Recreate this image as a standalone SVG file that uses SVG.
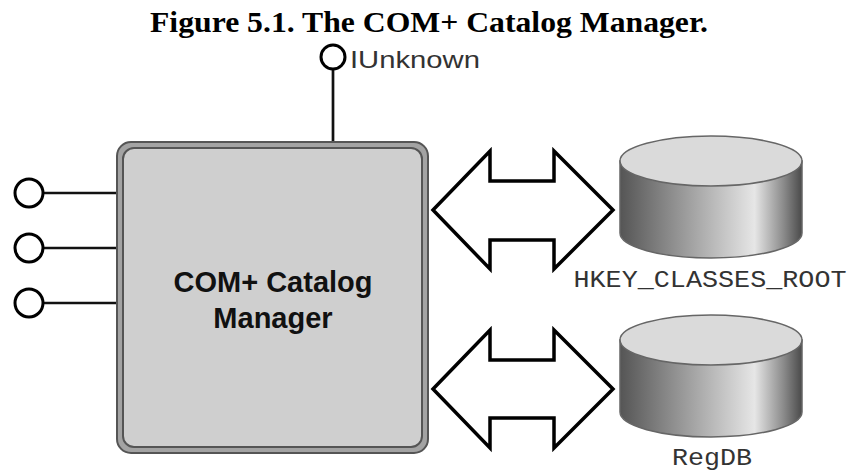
<svg xmlns="http://www.w3.org/2000/svg" width="852" height="473" viewBox="0 0 852 473">
<defs>
<linearGradient id="cyl" x1="0" y1="0" x2="1" y2="0">
<stop offset="0" stop-color="#555"/>
<stop offset="0.35" stop-color="#9a9a9a"/>
<stop offset="0.74" stop-color="#e6e6e6"/>
<stop offset="0.9" stop-color="#8a8a8a"/>
<stop offset="1" stop-color="#4a4a4a"/>
</linearGradient>
<style>
.title{font-family:"Liberation Serif","Times New Roman",serif;font-weight:bold;font-size:29px;fill:#000}
.iface{fill:#fff;stroke:#000;stroke-width:3}
.stem{stroke:#111;stroke-width:2.7;fill:none}
.lbl{font-family:"Liberation Sans",Arial,sans-serif;font-size:24px;fill:#333}
.box{font-family:"Liberation Sans",Arial,sans-serif;font-weight:bold;font-size:29px;fill:#111}
.mono{font-family:"Liberation Mono","Courier New",monospace;font-size:23px;fill:#333}
.arrow{fill:#fff;stroke:#000;stroke-width:3.5;stroke-linejoin:miter}
.side{fill:url(#cyl);stroke:#666;stroke-width:1.5}
.top{fill:#dadada;stroke:#666;stroke-width:1.5}
</style>
</defs>
<text class="title" x="429" y="32" text-anchor="middle" textLength="558" lengthAdjust="spacingAndGlyphs">Figure 5.1. The COM+ Catalog Manager.</text>

<g id="connectors">
<line class="stem" x1="333" y1="70" x2="333" y2="142"/>
<line class="stem" x1="44" y1="193" x2="117" y2="193"/>
<line class="stem" x1="44" y1="248" x2="117" y2="248"/>
<line class="stem" x1="44" y1="303" x2="117" y2="303"/>
<polygon class="arrow" points="433,210 490,151 490,181 554,181 554,151 613,210 554,269 554,240 490,240 490,269"/>
<polygon class="arrow" points="433,389 490,330 490,360 554,360 554,330 613,389 554,448 554,418 490,418 490,448"/>
</g>

<g id="iunknown">
<circle class="iface" cx="333" cy="57" r="12"/>
<text class="lbl" x="350" y="68" textLength="130" lengthAdjust="spacingAndGlyphs">IUnknown</text>
</g>

<g id="iface1"><circle class="iface" cx="29" cy="193" r="14"/></g>
<g id="iface2"><circle class="iface" cx="29" cy="248" r="14"/></g>
<g id="iface3"><circle class="iface" cx="29" cy="303" r="14"/></g>

<g id="catalog-manager">
<rect x="117" y="142" width="311" height="311" rx="14" fill="#a3a3a3" stroke="#555" stroke-width="2"/>
<rect x="123" y="148" width="299" height="299" rx="11" fill="#cfcfcf" stroke="#555" stroke-width="2"/>
<text class="box" x="273" y="292" text-anchor="middle">COM+ Catalog</text>
<text class="box" x="273" y="328" text-anchor="middle">Manager</text>
</g>

<g id="hkcr">
<path class="side" d="M620,161 L620,233 A91,25 0 0 0 802,233 L802,161 Z"/>
<ellipse class="top" cx="711" cy="161" rx="91" ry="25"/>
<text class="mono" x="710" y="287" text-anchor="middle" textLength="273" lengthAdjust="spacingAndGlyphs">HKEY_CLASSES_ROOT</text>
</g>

<g id="regdb">
<path class="side" d="M620,340 L620,412 A91,25 0 0 0 802,412 L802,340 Z"/>
<ellipse class="top" cx="711" cy="340" rx="91" ry="25"/>
<text class="mono" x="712" y="465" text-anchor="middle" textLength="80" lengthAdjust="spacingAndGlyphs">RegDB</text>
</g>
</svg>
